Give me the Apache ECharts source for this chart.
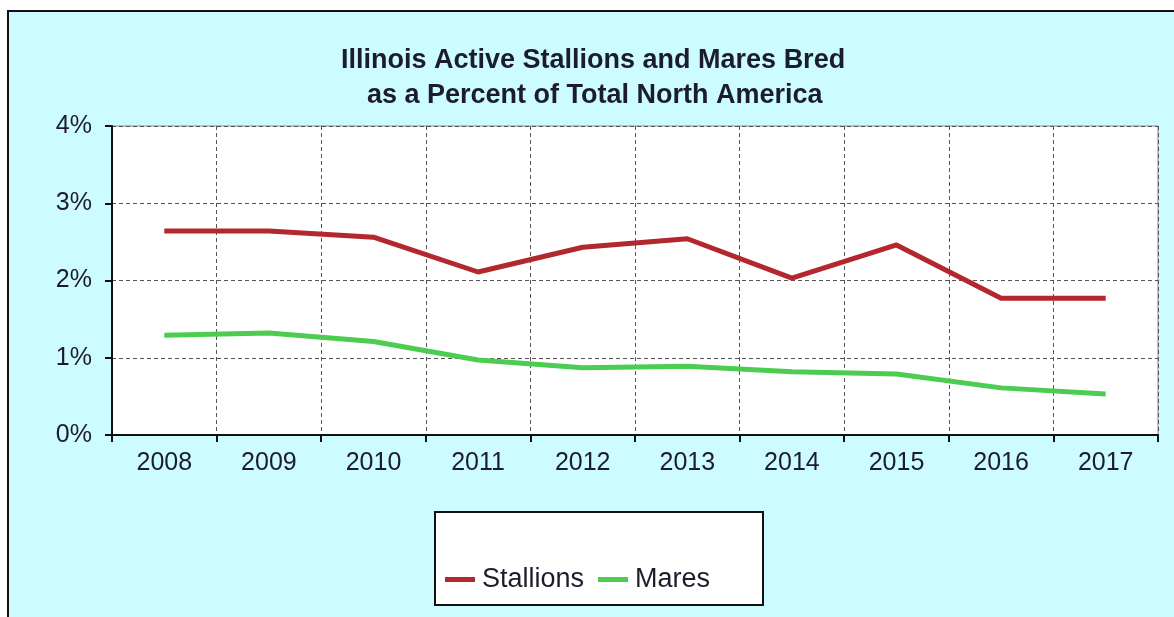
<!DOCTYPE html>
<html>
<head>
<meta charset="utf-8">
<script src="https://cdn.jsdelivr.net/npm/echarts@6/dist/echarts.min.js"></script>
<style>html,body{margin:0;padding:0;background:#fff;}#c{width:1174px;height:617px;}</style>
</head>
<body>
<div id="c"></div>
<script>
var years = ['2008','2009','2010','2011','2012','2013','2014','2015','2016','2017'];
var stallions = [2.64, 2.64, 2.56, 2.11, 2.43, 2.54, 2.03, 2.46, 1.77, 1.77];
var mares = [1.29, 1.32, 1.21, 0.97, 0.87, 0.89, 0.82, 0.79, 0.61, 0.53];
var titleLines = ['Illinois Active Stallions and Mares Bred', 'as a Percent of Total North America'];

var chart = echarts.init(document.getElementById('c'), null, {renderer: 'canvas'});
var font = '"Liberation Sans", Arial, sans-serif';
var titleStyle = {fontFamily: font, fontWeight: 'bold', fontSize: 27, color: '#1c1c2c', lineHeight: 35};
chart.setOption({
  backgroundColor: '#ffffff',
  animation: false,
  graphic: [
    {type: 'rect', z: -10, silent: true,
     shape: {x: 8, y: 11, width: 1300, height: 700},
     style: {fill: '#ccfcff', stroke: '#111', lineWidth: 2}},
    {type: 'rect', z: -5, silent: true,
     shape: {x: 435, y: 512, width: 328, height: 93},
     style: {fill: '#ffffff', stroke: '#111', lineWidth: 2}}
  ],
  title: [
    {text: titleLines[0], left: 336, top: 38, textStyle: titleStyle},
    {text: titleLines[1], left: 362, top: 73, textStyle: titleStyle}
  ],
  legend: {
    left: 440,
    top: 561,
    itemWidth: 30,
    itemHeight: 5,
    itemGap: 14,
    icon: 'rect',
    textStyle: {fontFamily: font, fontSize: 27, color: '#1c1c2c', padding: [0,0,0,2]},
    data: ['Stallions', 'Mares']
  },
  grid: {
    left: 112, right: 16, top: 126, bottom: 182,
    show: true, backgroundColor: '#ffffff', borderColor: '#888', borderWidth: 1
  },
  xAxis: {
    type: 'category',
    data: years,
    boundaryGap: true,
    axisLine: {show: true, lineStyle: {color: '#111', width: 2}},
    axisTick: {show: true, length: 7, lineStyle: {color: '#111', width: 2}},
    axisLabel: {fontFamily: font, fontSize: 25, color: '#1c1c2c', margin: 16},
    splitLine: {show: true, lineStyle: {color: '#555', type: [4, 3], width: 1}}
  },
  yAxis: {
    type: 'value',
    min: 0, max: 4, interval: 1,
    axisLine: {show: true, lineStyle: {color: '#111', width: 2}},
    axisTick: {show: true, length: 7, lineStyle: {color: '#111', width: 2}},
    axisLabel: {fontFamily: font, fontSize: 25, color: '#1c1c2c', margin: 20, formatter: '{value}%'},
    splitLine: {show: true, lineStyle: {color: '#555', type: [4, 3], width: 1}}
  },
  series: [
    {name: 'Stallions', type: 'line', data: stallions, showSymbol: false, symbol: 'none',
     color: '#b2282e', lineStyle: {width: 5, color: '#b2282e'}},
    {name: 'Mares', type: 'line', data: mares, showSymbol: false, symbol: 'none',
     color: '#4ccc50', lineStyle: {width: 5, color: '#4ccc50'}}
  ]
});
</script>
</body>
</html>
